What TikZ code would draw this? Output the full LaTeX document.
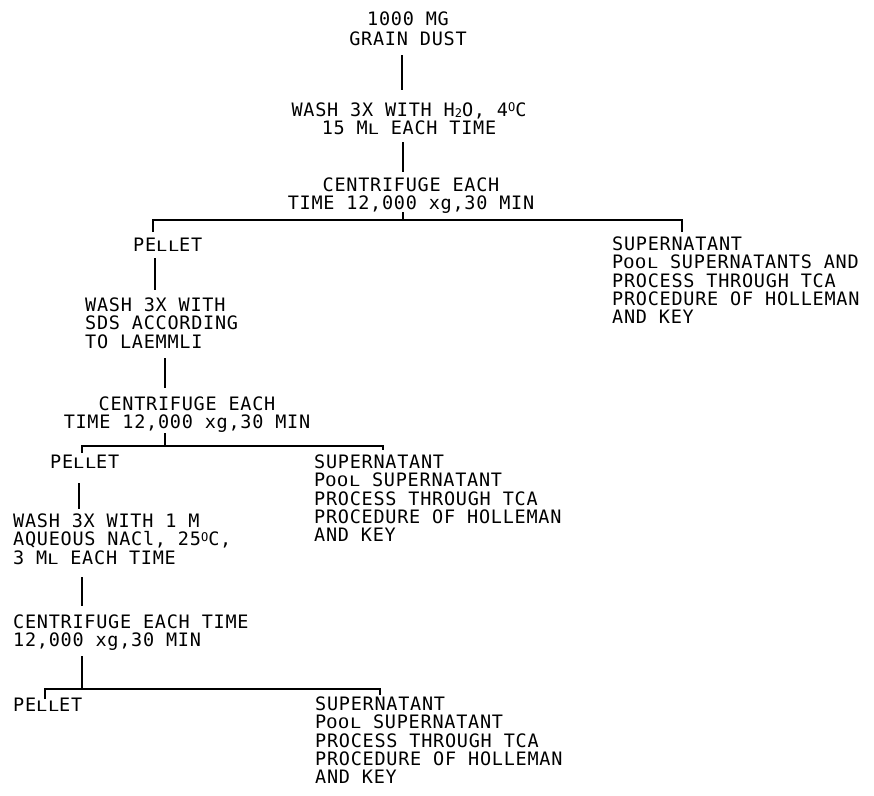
\documentclass[tikz,border=0pt]{standalone}
\usepackage{fontspec}
\usepackage{graphicx}
\newfontfamily\tw[LetterSpace=4]{DejaVu Sans Mono}
\newcommand\fs{\rule{0pt}{16pt}}
\newcommand\smc[1]{\scalebox{1}[0.78]{#1}}
\newcommand\lowr[1]{\raisebox{-1.5pt}{\fontsize{12}{12}\selectfont #1}}
\newcommand\upr[1]{\raisebox{4.5pt}{\fontsize{12}{12}\selectfont #1}}
\tikzset{
  txt/.style={font=\tw\fontsize{18.5}{18.4}\selectfont, inner sep=0pt, align=left, anchor=north west},
  ctxt/.style={txt, align=center, anchor=north},
  ln/.style={line width=1.5pt},
  bar/.style={line width=2pt},
}
\begin{document}
\begin{tikzpicture}[x=1pt,y=-1pt]
\useasboundingbox (0,0) rectangle (874,795);
% text blocks
\node[ctxt] (a) at (408,9) {\fs 1000 MG\\[1.5pt]GRAIN DUST};
\node[ctxt] (b) at (409,100) {\fs WASH 3X WITH H\lowr{2}O, 4\upr{O}C\\15 M\smc{L} EACH TIME};
\node[ctxt] (c) at (411,175) {\fs CENTRIFUGE EACH\\TIME 12,000 xg,30 MIN};
\node[txt] (p1) at (133,235) {\fs PE\smc{LL}ET};
\node[txt] (s1) at (612,234) {\fs SUPERNATANT\\P\smc{OOL} SUPERNATANTS AND\\PROCESS THROUGH TCA\\PROCEDURE OF HOLLEMAN\\AND KEY};
\node[txt] (d) at (85,295) {\fs WASH 3X WITH\\SDS ACCORDING\\TO LAEMMLI};
\node[ctxt] (e) at (187,394) {\fs CENTRIFUGE EACH\\TIME 12,000 xg,30 MIN};
\node[txt] (p2) at (50,452) {\fs PE\smc{LL}ET};
\node[txt] (s2) at (314,452) {\fs SUPERNATANT\\P\smc{OOL} SUPERNATANT\\PROCESS THROUGH TCA\\PROCEDURE OF HOLLEMAN\\AND KEY};
\node[txt] (f) at (13,511) {\fs WASH 3X WITH 1 M\\AQUEOUS NACl, 25\upr{O}C,\\3 M\smc{L} EACH TIME};
\node[txt] (g) at (13,612) {\fs CENTRIFUGE EACH TIME\\12,000 xg,30 MIN};
\node[txt] (p3) at (13,695) {\fs PE\smc{LL}ET};
\node[txt] (s3) at (315,694) {\fs SUPERNATANT\\P\smc{OOL} SUPERNATANT\\PROCESS THROUGH TCA\\PROCEDURE OF HOLLEMAN\\AND KEY};
% connector points
\coordinate (a1) at (402,55);  \coordinate (b0) at (402,90);
\coordinate (b1) at (403,142); \coordinate (c0) at (403,172);
\coordinate (c1) at (403,212); \coordinate (k1) at (403,220);
\coordinate (k1l) at (153,220); \coordinate (k1r) at (682,220);
\coordinate (p1t) at (153,232); \coordinate (s1t) at (682,232);
\coordinate (p1b) at (155,258); \coordinate (d0) at (155,290);
\coordinate (d1) at (165,358); \coordinate (e0) at (165,388);
\coordinate (e1) at (165,433); \coordinate (k2) at (165,446);
\coordinate (k2l) at (82,446); \coordinate (k2r) at (383,446);
\coordinate (p2t) at (82,453); \coordinate (s2t) at (383,450);
\coordinate (p2b) at (79,483); \coordinate (f0) at (79,509);
\coordinate (f1) at (82,577); \coordinate (g0) at (82,606);
\coordinate (g1) at (82,656); \coordinate (k3) at (82,689);
\coordinate (k3l) at (45,689); \coordinate (k3r) at (380,689);
\coordinate (p3t) at (45,699); \coordinate (s3t) at (380,695);
% connectors
\draw[ln] (a1) -- (b0);
\draw[ln] (b1) -- (c0);
\draw[ln] (c1) -- (k1);
\draw[bar] (p1t) -- (k1l) -- (k1r) -- (s1t);
\draw[ln] (p1b) -- (d0);
\draw[ln] (d1) -- (e0);
\draw[ln] (e1) -- (k2);
\draw[bar] (p2t) -- (k2l) -- (k2r) -- (s2t);
\draw[ln] (p2b) -- (f0);
\draw[ln] (f1) -- (g0);
\draw[ln] (g1) -- (k3);
\draw[bar] (p3t) -- (k3l) -- (k3r) -- (s3t);
\end{tikzpicture}
\end{document}
